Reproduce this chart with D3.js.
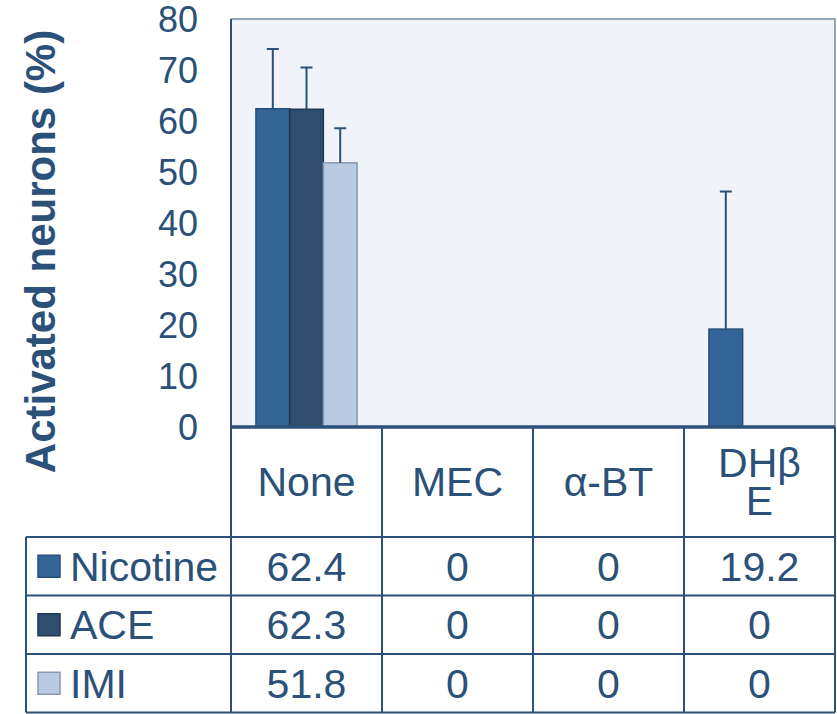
<!DOCTYPE html>
<html>
<head>
<meta charset="utf-8">
<script src="https://cdn.jsdelivr.net/npm/d3@7"></script>
<style>
  html, body { margin: 0; padding: 0; background: #fff; }
  svg { display: block; font-family: Arial, "Liberation Sans", sans-serif; }
</style>
</head>
<body>
<svg id="chart" width="837" height="714"></svg>
<script>
// Treatments (x categories); header lines as shown in the data table
const categories = ["None", "MEC", "α-BT", "DHβE"];
const categoryLines = [["None"], ["MEC"], ["α-BT"], ["DHβ", "E"]];

// Agonists (series)
const seriesNames = ["Nicotine", "ACE", "IMI"];
const nicotine = [62.4, 0, 0, 19.2];
const ace = [62.3, 0, 0, 0];
const imi = [51.8, 0, 0, 0];
const nicotineErr = [11.7, 0, 0, 27.0];
const aceErr = [8.2, 0, 0, 0];
const imiErr = [6.8, 0, 0, 0];

const yTicks = [0, 10, 20, 30, 40, 50, 60, 70, 80];
const yTitle = "Activated neurons (%)";

const seriesValues = [nicotine, ace, imi];
const seriesErrors = [nicotineErr, aceErr, imiErr];
const fills = ["#336598", "#2f4d6d", "#b8cbe3"];
const strokes = ["#284f7b", "#1e3854", "#8798ae"];
const ink = "#2b5179";

const svg = d3.select("#chart");

const plot = { left: 231, right: 835, top: 19, bottom: 427 };
const table = { left: 26, headerBottom: 537, rowH: 58.5 };

const x = d3.scaleBand().domain(categories).range([plot.left, plot.right]).padding(0);
const xs = d3.scaleBand().domain(seriesNames).range([0, x.bandwidth()])
  .paddingInner(0).paddingOuter(0.74);
const y = d3.scaleLinear().domain([0, 80]).range([plot.bottom, plot.top]);

// plot background
svg.append("rect")
  .attr("x", plot.left).attr("y", plot.top)
  .attr("width", plot.right - plot.left).attr("height", plot.bottom - plot.top)
  .attr("fill", "#f0f4fa");

// plot frame (top and right)
svg.append("path")
  .attr("d", `M${plot.left},${plot.top}H${plot.right}V${plot.bottom}`)
  .attr("fill", "none").attr("stroke", "#6f89a8").attr("stroke-width", 1.5);

// bars
const rows = [];
seriesNames.forEach((s, si) => {
  categories.forEach((c, ci) => {
    rows.push({ s, si, c, v: seriesValues[si][ci], e: seriesErrors[si][ci] });
  });
});

const barData = rows.filter(d => d.v > 0);
svg.append("g").selectAll("rect").data(barData).join("rect")
  .attr("x", d => x(d.c) + xs(d.s))
  .attr("y", d => y(d.v))
  .attr("width", xs.bandwidth())
  .attr("height", d => y(0) - y(d.v))
  .attr("fill", d => fills[d.si])
  .attr("stroke", d => strokes[d.si])
  .attr("stroke-width", 1.5);

// error bars (upper only)
const errData = rows.filter(d => d.e > 0);
const eg = svg.append("g").attr("stroke", ink).attr("stroke-width", 2).attr("fill", "none");
eg.selectAll("path").data(errData).join("path")
  .attr("d", d => {
    const cx = x(d.c) + xs(d.s) + xs.bandwidth() / 2;
    const y0 = y(d.v), y1 = y(d.v + d.e);
    return `M${cx},${y0}V${y1}M${cx - 6},${y1}H${cx + 6}`;
  });

// y axis with labels only
const yAxis = svg.append("g")
  .attr("transform", `translate(${plot.left - 33},0)`)
  .call(d3.axisLeft(y).tickValues(yTicks).tickSize(0).tickPadding(0));
yAxis.select(".domain").remove();
yAxis.selectAll("text")
  .attr("fill", ink).attr("font-size", 36).attr("dy", "0.35em");

// y title
svg.append("text")
  .attr("transform", `translate(55,${(30 + 473) / 2}) rotate(-90)`)
  .attr("text-anchor", "middle")
  .attr("font-size", 42).attr("font-weight", "bold")
  .attr("fill", ink)
  .text(yTitle);

// ---- data table ----
const tableBottom = table.headerBottom + table.rowH * seriesNames.length;
const grid = svg.append("g").attr("stroke", ink).attr("stroke-width", 2).attr("fill", "none");

// vertical lines through header and body
categories.forEach((c, i) => {
  if (i > 0) grid.append("line").attr("x1", x(c)).attr("x2", x(c))
    .attr("y1", plot.bottom).attr("y2", tableBottom);
});
grid.append("line").attr("x1", plot.right).attr("x2", plot.right)
  .attr("y1", plot.bottom).attr("y2", tableBottom);
grid.append("line").attr("x1", table.left).attr("x2", table.left)
  .attr("y1", table.headerBottom).attr("y2", tableBottom);

// horizontal lines
d3.range(seriesNames.length + 1).forEach(i => {
  const yy = table.headerBottom + i * table.rowH;
  grid.append("line").attr("x1", table.left).attr("x2", plot.right)
    .attr("y1", yy).attr("y2", yy);
});

// left axis line (plot + table)
svg.append("line")
  .attr("x1", plot.left).attr("x2", plot.left)
  .attr("y1", plot.top).attr("y2", tableBottom)
  .attr("stroke", ink).attr("stroke-width", 2);

// category axis baseline
svg.append("line")
  .attr("x1", plot.left).attr("x2", plot.right)
  .attr("y1", plot.bottom).attr("y2", plot.bottom)
  .attr("stroke", ink).attr("stroke-width", 3.5);

// header labels
const headerMid = (plot.bottom + table.headerBottom) / 2;
categories.forEach((c, i) => {
  const lines = categoryLines[i];
  const lh = 38;
  const t = svg.append("text")
    .attr("text-anchor", "middle").attr("font-size", 41).attr("fill", ink);
  lines.forEach((ln, k) => {
    t.append("tspan")
      .attr("x", x(c) + x.bandwidth() / 2)
      .attr("y", headerMid + (k - (lines.length - 1) / 2) * lh)
      .attr("dy", "0.35em")
      .text(ln);
  });
});

// body rows: legend key + values
seriesNames.forEach((s, si) => {
  const cy = table.headerBottom + table.rowH * (si + 0.5);
  svg.append("rect")
    .attr("x", 38).attr("y", cy - 11).attr("width", 22).attr("height", 22)
    .attr("fill", fills[si]).attr("stroke", strokes[si]).attr("stroke-width", 1.5);
  svg.append("text")
    .attr("x", 70).attr("y", cy).attr("dy", "0.35em")
    .attr("font-size", 41).attr("fill", ink)
    .text(s);
  categories.forEach((c, ci) => {
    svg.append("text")
      .attr("x", x(c) + x.bandwidth() / 2).attr("y", cy).attr("dy", "0.35em")
      .attr("text-anchor", "middle").attr("font-size", 41).attr("fill", ink)
      .text(seriesValues[si][ci]);
  });
});
</script>
</body>
</html>
